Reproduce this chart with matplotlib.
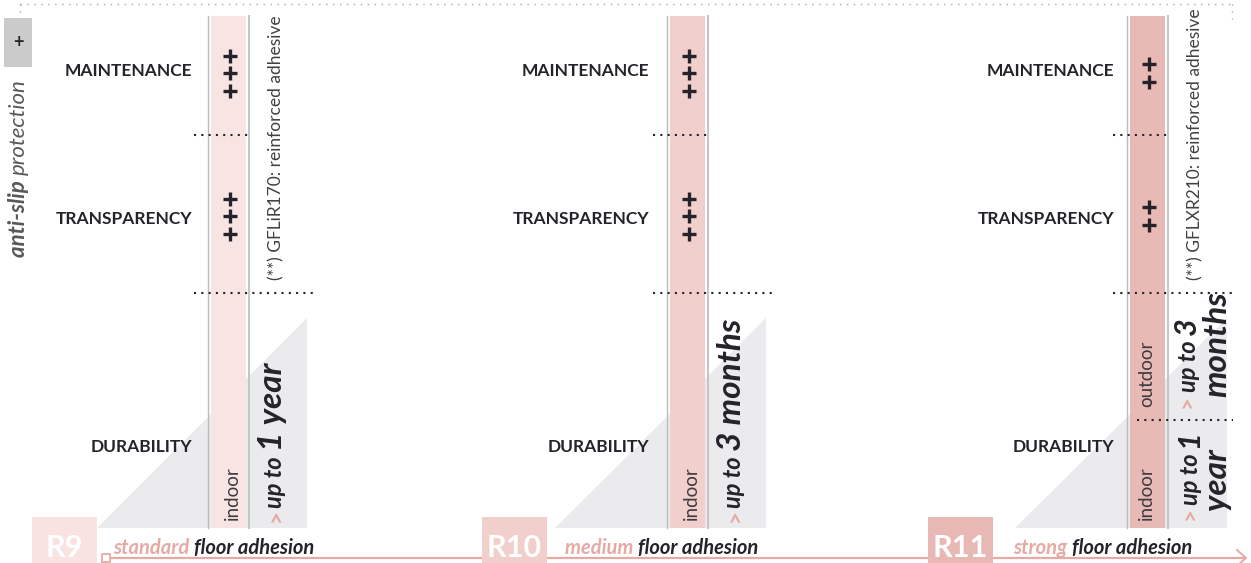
import matplotlib
matplotlib.use("Agg")
import matplotlib.pyplot as plt
from matplotlib.patches import Rectangle, Polygon

plt.rcParams["font.family"] = ["Lato", "DejaVu Sans"]

# Data
grades = ["R9", "R10", "R11"]
adhesion = ["standard", "medium", "strong"]
criteria = ["MAINTENANCE", "TRANSPARENCY", "DURABILITY"]
maintenance = [3, 3, 2]
transparency = [3, 3, 2]
notes = ["(**) GFLiR170: reinforced adhesive", None, "(**) GFLXR210: reinforced adhesive"]
durability = [
    [("indoor", "up to ", "1 year")],
    [("indoor", "up to ", "3 months")],
    [("outdoor", "up to ", "3", "months"), ("indoor", "up to ", "1", "year")],
]

# Colours per grade
bar_colors = ["#f8e5e3", "#f0cfcc", "#e8bab6"]
box_colors = ["#f8e3e1", "#f0cfcc", "#e8b9b4"]
pink = "#e6aaa5"
dark = "#26222a"
tri_color = "#ebebee"

# Layout (pixel space)
bar_x = [211, 670, 1130]
label_x = [192, 649, 1114]
tri_x = [97, 555, 1015]
tri_r = [307, 766, 1227]
box_x = [32, 482, 928]
adh_x = [113, 565, 1013]
note_x = [281, None, 1200]

W, H = 1251, 563
fig = plt.figure(figsize=(W / 100, H / 100), dpi=100)
ax = fig.add_axes([0, 0, 1, 1])
ax.set_xlim(0, W)
ax.set_ylim(H, 0)
ax.axis("off")
fig.canvas.draw()
renderer = fig.canvas.get_renderer()


def vrun(x, y, parts):
    # rotated text pieces, baseline at x, running upward from y
    for s, kw in parts:
        t = ax.text(x, y, s, rotation=90, rotation_mode="anchor", ha="left", va="baseline", **kw)
        y -= t.get_window_extent(renderer).height


def hrun(x, y, parts):
    for s, kw in parts:
        t = ax.text(x, y, s, ha="left", va="baseline", **kw)
        x += t.get_window_extent(renderer).width


def chevron(x, y):
    ax.text(x, y, ">", rotation=90, ha="center", va="center", fontsize=16, fontweight="bold", color=pink)


# top dotted frame
ax.plot([20, 1232], [4, 4], color="#a8a8a8", lw=1.0, ls=(0, (1, 4)))
ax.plot([20, 20], [4, 16], color="#a8a8a8", lw=1.0, ls=(0, (1, 4)))
ax.plot([1232, 1232], [4, 19], color="#a8a8a8", lw=1.0, ls=(0, (1, 4)))

# anti-slip protection header
ax.add_patch(Rectangle((4, 18), 28, 49, color="#cbcbcb", lw=0))
ax.text(18, 43, "+", ha="center", va="center", fontsize=13, color=dark, fontweight="bold")
vrun(25, 257, [("anti-slip ", dict(fontsize=16, style="italic", fontweight="bold", color="#58585c")),
               ("protection", dict(fontsize=16, style="italic", fontweight="normal", color="#58585c"))])

# bottom axis arrow
ax.plot([106, 1245], [558, 558], color=pink, lw=1.6, zorder=1)
ax.plot([1237, 1246, 1237], [550, 558, 566], color=pink, lw=1.4, zorder=1)
ax.plot([106], [558], marker="s", ms=6, mfc="white", mec=pink, mew=1.3, zorder=3)

for i in range(3):
    bx = bar_x[i]
    # triangle
    ax.add_patch(Polygon([(tri_x[i], 528), (tri_r[i], 318), (tri_r[i], 528)], closed=True,
                         color=tri_color, lw=0, zorder=0))
    # bar and lines
    ax.add_patch(Rectangle((bx, 16), 35, 512, color=bar_colors[i], lw=0, zorder=1))
    ax.plot([bx - 3.5, bx - 3.5], [16, 528], color="#b9bcbe", lw=1.0, zorder=2)
    ax.plot([bx + 37.5, bx + 37.5], [16, 528], color="#c3c7c9", lw=1.5, zorder=2)

    # criteria labels
    for lab, yy in zip(criteria, [71, 219, 447]):
        ax.text(label_x[i], yy, lab, ha="right", va="center", fontsize=12.5, fontweight="bold", color=dark)

    # separators
    ax.plot([bx - 17, bx + 37], [135, 135], color=dark, lw=1.5, ls=(0, (1, 2.5)))
    ax.plot([bx - 17, bx + 103], [293, 293], color=dark, lw=1.5, ls=(0, (1, 2.5)))

    # plus ratings
    cx = bx + 18.5
    for n, yc in [(maintenance[i], 73), (transparency[i], 216)]:
        ys = [yc + 17.5 * (k - (n - 1) / 2) for k in range(n)]
        ax.plot([cx] * n, ys, ls="none", marker="+", ms=10.5, mew=2.4, color=dark, zorder=3)

    # note
    if notes[i]:
        vrun(note_x[i], 280, [(notes[i], dict(fontsize=12.5, fontweight="normal", color="#414145"))])

    # grade box and adhesion label
    ax.add_patch(Rectangle((box_x[i], 517), 65, 50, color=box_colors[i], lw=0, zorder=2))
    ax.text(box_x[i] + 32.5, 557, grades[i], ha="center", va="baseline", fontsize=22,
            fontweight="bold", color="white", zorder=3)
    hrun(adh_x[i], 554, [(adhesion[i] + " ", dict(fontsize=14.5, style="italic", fontweight="bold", color=pink)),
                         ("floor adhesion", dict(fontsize=14.5, style="italic", fontweight="bold", color=dark))])

# durability texts
big = dict(style="italic", fontweight="bold", color=dark)
place_kw = dict(fontsize=13.5, fontweight="normal", color="#3c3a40")
for i in range(2):
    bx = bar_x[i]
    place, up, val = durability[i][0]
    vrun(bx + 27, 520, [(place, place_kw)])
    chevron(bx + 65, 516)
    vrun(bx + 71, 508, [(up, dict(fontsize=17, **big)), (val, dict(fontsize=24, **big))])

# strong adhesion: outdoor / indoor split
bx = bar_x[2]
ax.plot([bx + 7, bx + 103], [420, 420], color=dark, lw=1.5, ls=(0, (1, 2.5)))
(p1, u1, n1, w1), (p2, u2, n2, w2) = durability[2]
vrun(bx + 22, 407, [(p1, place_kw)])
vrun(bx + 22, 520, [(p2, place_kw)])
chevron(1187, 402)
chevron(1190, 514)
vrun(1196, 392, [(u1, dict(fontsize=17, **big)), (n1, dict(fontsize=22, **big))])
vrun(1226, 397, [(w1, dict(fontsize=24, **big))])
vrun(1198, 505, [(u2, dict(fontsize=17, **big)), (n2, dict(fontsize=22, **big))])
vrun(1226, 510, [(w2, dict(fontsize=24, **big))])

fig.savefig("out.png", dpi=100)
